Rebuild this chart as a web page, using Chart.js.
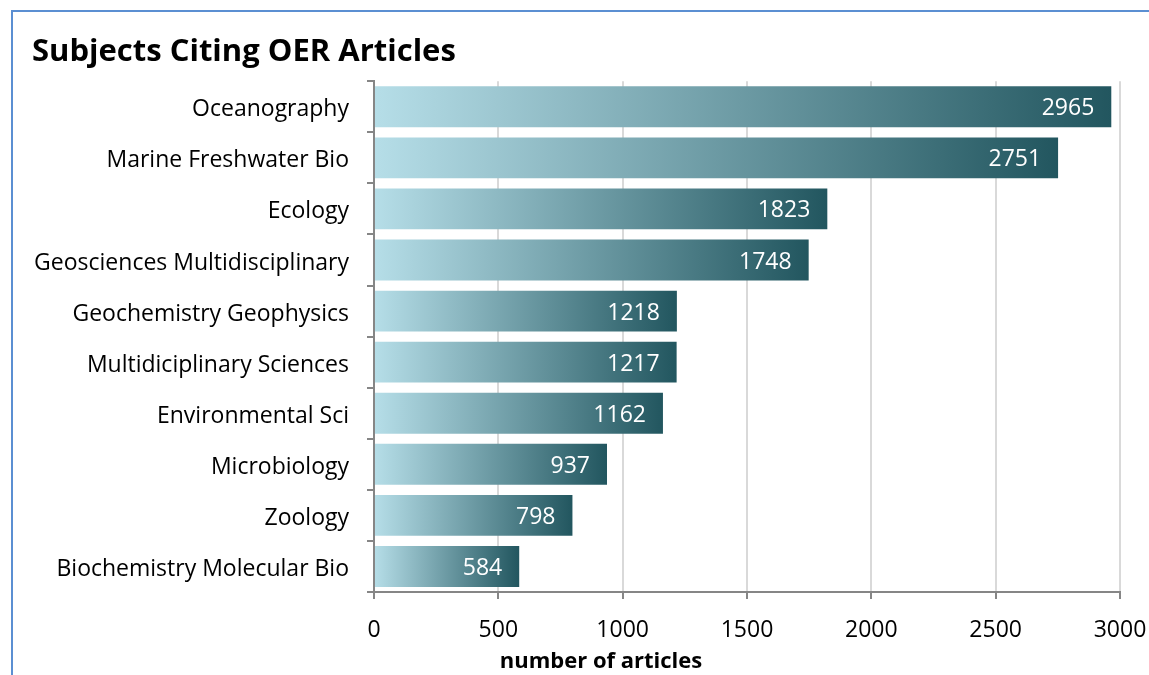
<!DOCTYPE html>
<html>
<head>
<meta charset="utf-8">
<script src="https://cdn.jsdelivr.net/npm/chart.js@4/dist/chart.umd.min.js"></script>
<style>
  html, body { margin: 0; padding: 0; background: #fff; }
  #wrap { position: relative; width: 1149px; height: 675px; }
  #frame { position: absolute; left: 11px; top: 10px; right: 0; bottom: 0;
           border-top: 2px solid #5b8fd2; border-left: 2px solid #5b8fd2; }
  canvas { position: absolute; left: 0; top: 0; }
</style>
</head>
<body>
<div id="wrap">
  <div id="frame"></div>
  <canvas id="c" width="1149" height="675"></canvas>
</div>
<script>
const subjects = ['Oceanography', 'Marine Freshwater Bio', 'Ecology', 'Geosciences Multidisciplinary',
  'Geochemistry Geophysics', 'Multidiciplinary Sciences', 'Environmental Sci', 'Microbiology',
  'Zoology', 'Biochemistry Molecular Bio'];
const articles = [2965, 2751, 1823, 1748, 1218, 1217, 1162, 937, 798, 584];
const xTicks = [0, 500, 1000, 1500, 2000, 2500, 3000];

const FONT = '"Open Sans"';
const light = '#b6dee8';
const dark = '#22565f';

// gradient runs along each bar, from its base to its end
function barFill(context) {
  const chart = context.chart;
  const x = chart.scales.x;
  if (!chart.chartArea || !x) return dark;
  const v = context.dataset.data[context.dataIndex];
  const x0 = x.getPixelForValue(0);
  const x1 = x.getPixelForValue(v);
  const g = chart.ctx.createLinearGradient(x0, 0, x1, 0);
  g.addColorStop(0, light);
  g.addColorStop(1, dark);
  return g;
}

const valueLabels = {
  id: 'valueLabels',
  afterDatasetsDraw(chart) {
    const ctx = chart.ctx;
    const meta = chart.getDatasetMeta(0);
    ctx.save();
    ctx.fillStyle = '#ffffff';
    ctx.font = '23px ' + FONT;
    ctx.textAlign = 'right';
    ctx.textBaseline = 'middle';
    meta.data.forEach((bar, i) => {
      ctx.fillText(String(articles[i]), bar.x - 17, bar.y + 2);
    });
    ctx.restore();
  }
};

const axisTitle = {
  id: 'axisTitle',
  afterDraw(chart) {
    const ctx = chart.ctx;
    ctx.save();
    ctx.fillStyle = '#000';
    ctx.font = 'bold 22px ' + FONT;
    ctx.textAlign = 'center';
    ctx.textBaseline = 'middle';
    ctx.fillText('number of articles', 601, 662);
    ctx.restore();
  }
};

new Chart(document.getElementById('c'), {
  type: 'bar',
  data: {
    labels: subjects,
    datasets: [{
      data: articles,
      backgroundColor: barFill,
      borderWidth: 0,
      categoryPercentage: 0.8,
      barPercentage: 1.0
    }]
  },
  options: {
    indexAxis: 'y',
    responsive: false,
    animation: false,
    layout: { padding: { left: 32, right: 29, top: 0, bottom: 0 } },
    plugins: {
      legend: { display: false },
      tooltip: { enabled: false },
      title: {
        display: true,
        text: 'Subjects Citing OER Articles',
        align: 'start',
        color: '#000',
        font: { family: FONT, size: 31, weight: 'bold' },
        padding: { top: 34, bottom: 10 }
      }
    },
    scales: {
      x: {
        min: 0, max: 3000,
        afterBuildTicks: (s) => { s.ticks = xTicks.map(v => ({ value: v })); },
        afterFit: (s) => { s.height = 83; s.paddingRight = 0; s.paddingLeft = 0; },
        grid: { color: '#d9d9d9', lineWidth: 2, tickColor: '#868686', tickLength: 7 },
        border: { color: '#868686', width: 2 },
        ticks: { color: '#000', padding: 18, font: { family: FONT, size: 23 },
                 callback: (v) => String(v) }
      },
      y: {
        afterFit: (s) => { s.width = 342; s.paddingTop = 0; s.paddingBottom = 0; },
        grid: { drawOnChartArea: false, color: '#868686', lineWidth: 2, tickLength: 7 },
        border: { color: '#868686', width: 2 },
        ticks: { color: '#000', padding: 18, labelOffset: 3, font: { family: FONT, size: 23 } }
      }
    }
  },
  plugins: [valueLabels, axisTitle]
});
</script>
</body>
</html>
